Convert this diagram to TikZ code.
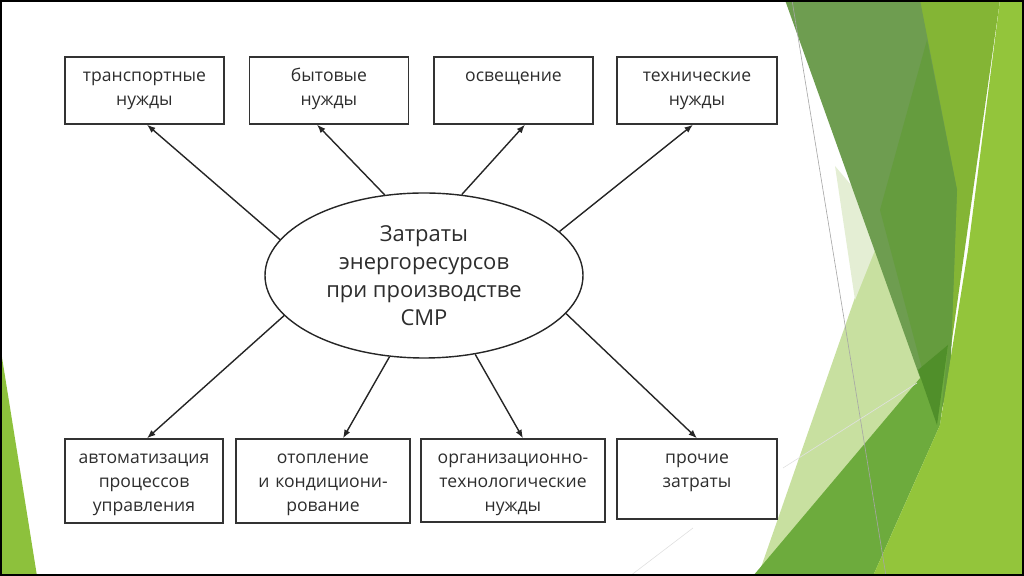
\documentclass[tikz,border=0pt]{standalone}
\usepackage{fontspec}
\setmainfont{Open Sans}
\usetikzlibrary{arrows.meta,shapes.geometric}
\definecolor{textgrey}{RGB}{45,45,45}
\definecolor{facetpale}{RGB}{200,224,160}
\definecolor{facetfaint}{RGB}{228,238,212}
\definecolor{facetdark}{RGB}{110,157,80}
\definecolor{facetdeep}{RGB}{101,156,62}
\definecolor{facetdarkest}{RGB}{80,143,42}
\definecolor{facetmid}{RGB}{109,171,61}
\definecolor{facetyellow}{RGB}{132,181,53}
\definecolor{facetbright}{RGB}{147,197,59}
\definecolor{facetleft}{RGB}{141,193,60}
\tikzset{
  needbox/.style={
    draw=black!80,
    line width=0.8pt,
    inner sep=0pt,
    minimum width=3.18cm,
    minimum height=1.34cm
  },
  needtext/.style={
    anchor=base,
    align=center,
    text width=3.6cm,
    inner sep=0pt,
    yshift=-0.5cm,
    text=textgrey,
    font=\fontsize{10}{13.6}\selectfont
  },
  costellipse/.style={
    ellipse,
    draw=black!85,
    line width=0.8pt,
    inner sep=0pt,
    minimum width=6.36cm,
    minimum height=3.3cm,
    align=center,
    text=textgrey,
    font=\fontsize{12.5}{16}\selectfont
  },
  flowarrow/.style={
    draw=black!85,
    line width=0.8pt,
    -{Latex[length=1.7mm,width=1.3mm]}
  }
}
\begin{document}
\begin{tikzpicture}[x=1cm,y=1cm]

  \useasboundingbox (0,0) rectangle (20.48,11.52);

  % Slide decoration: green facets on the right, one wedge on the left.
  \fill[facetleft] (0,4.62) -- (0.74,0) -- (0,0) -- cycle;
  \fill[facetpale] (17.64,7.12) -- (18.9,3.52) -- (17.0,0) -- (15.16,0) -- cycle;
  \fill[facetfaint] (16.7,8.2) -- (17.7,7.02) -- (17.1,5.52) -- cycle;
  \fill[facetyellow] (18.4,11.52) -- (20.0,11.52) -- (18.8,3.02) -- cycle;
  \fill[facetdark] (15.7,11.52) -- (18.4,11.52) -- (19.14,7.72)
    -- (19.0,3.92) -- (18.74,3.02) -- cycle;
  \fill[facetdeep] (18.54,10.72) -- (19.14,7.72) -- (19.0,3.92)
    -- (18.74,3.02) -- (17.6,7.32) -- cycle;
  \fill[facetmid] (15.06,0) -- (18.96,4.62) -- (18.8,3.02) -- (17.46,0) -- cycle;
  \fill[facetdarkest] (18.36,4.12) -- (18.96,4.62) -- (18.74,3.02) -- cycle;
  \fill[facetbright] (20.0,11.52) -- (20.48,11.52) -- (20.48,0) -- (17.46,0)
    -- (18.8,3.02) -- (19.36,6.52) -- cycle;
  \draw[black!35,line width=0.35pt] (15.84,11.52) -- (17.72,0);
  \draw[black!12,line width=0.35pt] (15.66,2.16) -- (18.34,3.86);
  \draw[black!12,line width=0.35pt] (12.6,0) -- (13.86,0.96);

  % Central node.
  \node[costellipse] (cost) at (8.48,6.01)
    {Затраты\\энергоресурсов\\при производстве\\СМР};

  % Upper row of needs.
  \node[needbox] (transport) at (2.89,9.71) {};
  \node[needtext] at (transport.north) {транспортные\\нужды};
  \node[needbox] (household) at (6.58,9.71) {};
  \node[needtext] at (household.north) {бытовые\\нужды};
  \node[needbox] (lighting) at (10.27,9.71) {};
  \node[needtext] at (lighting.north) {освещение};
  \node[needbox,minimum width=3.2cm] (technical) at (13.94,9.71) {};
  \node[needtext] at (technical.north) {технические\\нужды};

  % Lower row of needs.
  \node[needbox,minimum width=3.16cm,minimum height=1.68cm] (automation) at (2.88,1.9) {};
  \node[needtext] at (automation.north) {автоматизация\\процессов\\управления};
  \node[needbox,minimum width=3.48cm,minimum height=1.68cm] (heating) at (6.46,1.9) {};
  \node[needtext] at (heating.north) {отопление\\и кондициони-\\рование};
  \node[needbox,minimum width=3.68cm,minimum height=1.66cm] (organisation) at (10.26,1.91) {};
  \node[needtext] at (organisation.north) {организационно-\\технологические\\нужды};
  \node[needbox,minimum width=3.2cm,minimum height=1.6cm] (other) at (13.94,1.94) {};
  \node[needtext] at (other.north) {прочие\\затраты};

  % Arrows from the ellipse to every box.
  \draw[flowarrow] (cost.166.9) -- ([xshift=0.05cm]transport.south);
  \draw[flowarrow] (cost.116.4) -- ([xshift=-0.24cm]household.south);
  \draw[flowarrow] (cost.65.8) -- ([xshift=0.23cm]lighting.south);
  \draw[flowarrow] (cost.18) -- ([xshift=-0.08cm]technical.south);
  \draw[flowarrow] (cost.196.2) -- ([xshift=0.06cm]automation.north);
  \draw[flowarrow] (cost.247.1) -- ([xshift=0.4cm]heating.north);
  \draw[flowarrow] (cost.303.4) -- ([xshift=0.2cm]organisation.north);
  \draw[flowarrow] (cost.345) -- (other.north);

  % Screenshot frame.
  \draw[black,line width=1.2pt] (0.02,0.02) rectangle (20.46,11.5);

\end{tikzpicture}
\end{document}
